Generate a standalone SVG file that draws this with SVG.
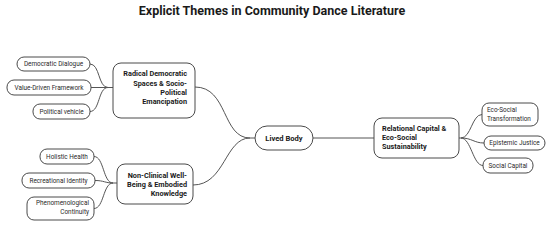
<svg xmlns="http://www.w3.org/2000/svg" width="550" height="225" viewBox="0 0 550 225">
<style>
.bg{fill:#ffffff}
.title{font-family:Roboto,"Liberation Sans",sans-serif;font-weight:700;font-size:12.5px;fill:#1a1a1a}
.box{fill:#ffffff;stroke:#4a4a4a;stroke-width:1}
.ptxt{font-family:Roboto,"Liberation Sans",sans-serif;font-weight:700;font-size:7.3px;fill:#1a1a1a}
.ctxt{font-family:Roboto,"Liberation Sans",sans-serif;font-size:6.4px;fill:#2a2a2a}
.conn{fill:none;stroke:#555555;stroke-width:1}
</style>
<rect class="bg" x="0" y="0" width="550" height="225"/>
<text class="title" x="272" y="15" text-anchor="middle">Explicit Themes in Community Dance Literature</text>
<g id="connectors">
<path class="conn" d="M90,64 C100,64 98,87.5 108,87.5"/>
<path class="conn" d="M91,87.5 L113,87.5"/>
<path class="conn" d="M90,111.5 C100,111.5 98,87.5 108,87.5"/>
<path class="conn" d="M195,87 C228,87 222,138 250,138 L255,138"/>
<path class="conn" d="M193,185 C225,185 225,138 250,138"/>
<path class="conn" d="M94,156.5 C104,156.5 103,183 113,183 L117,183"/>
<path class="conn" d="M95,180.5 C104,180.5 105,183 113,183"/>
<path class="conn" d="M94,208.5 C104,208.5 103,183 113,183"/>
<path class="conn" d="M313,138 L374,138"/>
<path class="conn" d="M459,138 L461,138 C471,138 472,114.5 482,114.5"/>
<path class="conn" d="M461,138 C472,138 474,143 484,143"/>
<path class="conn" d="M461,138 C471,138 473,165.5 483,165.5"/>
</g>
<g id="lived-body">
<rect class="box" x="255" y="126" width="58" height="24" rx="12"/>
<text class="ptxt" x="284" y="140.7" text-anchor="middle" style="font-size:7.6px">Lived Body</text>
</g>
<g id="radical">
<rect class="box" x="113" y="63" width="82" height="55" rx="8"/>
<text class="ptxt" text-anchor="end"><tspan x="187" y="76.3">Radical Democratic</tspan><tspan x="187" y="85.7">Spaces &amp; Socio-</tspan><tspan x="187" y="95">Political</tspan><tspan x="187" y="104.3">Emancipation</tspan></text>
</g>
<g id="non-clinical">
<rect class="box" x="117" y="164" width="76" height="40" rx="8"/>
<text class="ptxt" text-anchor="end"><tspan x="187" y="177.6">Non-Clinical Well-</tspan><tspan x="187" y="187">Being &amp; Embodied</tspan><tspan x="187" y="196.4">Knowledge</tspan></text>
</g>
<g id="relational">
<rect class="box" x="374" y="118" width="85" height="40" rx="8"/>
<text class="ptxt"><tspan x="382" y="130.6">Relational Capital &amp;</tspan><tspan x="382" y="140">Eco-Social</tspan><tspan x="382" y="149.4">Sustainability</tspan></text>
</g>
<g id="democratic-dialogue">
<rect class="box" x="17" y="57" width="73" height="14" rx="7"/>
<text class="ctxt" x="53.5" y="66.3" text-anchor="middle">Democratic Dialogue</text>
</g>
<g id="value-driven">
<rect class="box" x="7" y="80" width="84" height="15" rx="7"/>
<text class="ctxt" x="49" y="89.8" text-anchor="middle">Value-Driven Framework</text>
</g>
<g id="political-vehicle">
<rect class="box" x="33" y="104" width="57" height="15" rx="7"/>
<text class="ctxt" x="61.5" y="113.8" text-anchor="middle">Political vehicle</text>
</g>
<g id="holistic-health">
<rect class="box" x="40" y="149" width="54" height="15" rx="7"/>
<text class="ctxt" x="67" y="158.8" text-anchor="middle">Holistic Health</text>
</g>
<g id="recreational-identity">
<rect class="box" x="22" y="173" width="73" height="15" rx="7"/>
<text class="ctxt" x="58.5" y="182.8" text-anchor="middle">Recreational Identity</text>
</g>
<g id="phenomenological">
<rect class="box" x="27" y="197" width="67" height="23" rx="7"/>
<text class="ctxt" text-anchor="end"><tspan x="89" y="205.2">Phenomenological</tspan><tspan x="89" y="213.6">Continuity</tspan></text>
</g>
<g id="eco-social-transformation">
<rect class="box" x="482" y="103" width="56" height="23" rx="7"/>
<text class="ctxt"><tspan x="487" y="112.3">Eco-Social</tspan><tspan x="487" y="120.5">Transformation</tspan></text>
</g>
<g id="epistemic-justice">
<rect class="box" x="484" y="136" width="61" height="14" rx="7"/>
<text class="ctxt" x="514.5" y="145.3" text-anchor="middle">Epistemic Justice</text>
</g>
<g id="social-capital">
<rect class="box" x="483" y="158" width="50" height="15" rx="7"/>
<text class="ctxt" x="508" y="167.8" text-anchor="middle">Social Capital</text>
</g>
</svg>
